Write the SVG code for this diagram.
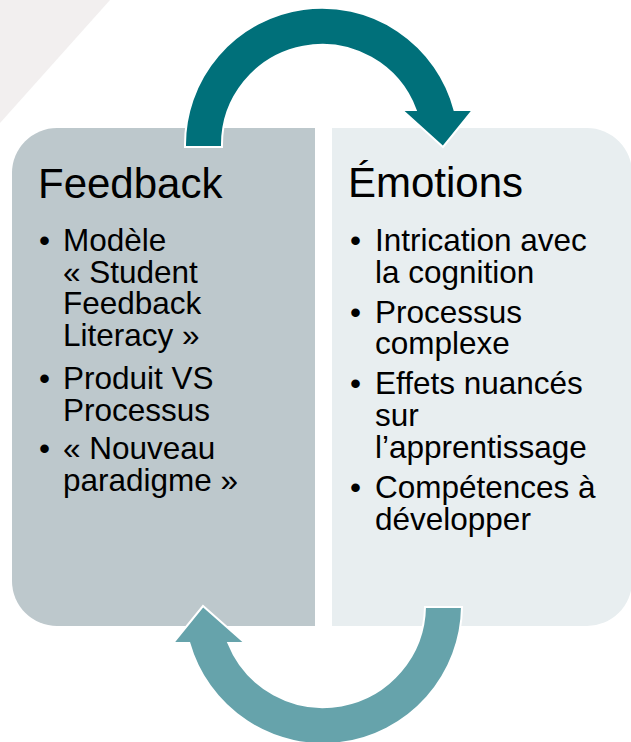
<svg xmlns="http://www.w3.org/2000/svg" width="631" height="742" viewBox="0 0 631 742">
<style>
.title{font-family:"Liberation Sans",Arial,sans-serif;font-size:42px;fill:#000}
.item{font-family:"Liberation Sans",Arial,sans-serif;font-size:31.5px;fill:#000}
.arrow{stroke:#fff;stroke-width:2;stroke-linejoin:miter}
</style>
<rect width="631" height="742" fill="#fff"/>
<polygon points="0,0 110,0 0,123" fill="#F2EFEF"/>
<g id="feedback">
<path d="M57,128 H315 V626 H57 A45,45 0 0 1 12,581 V173 A45,45 0 0 1 57,128 Z" fill="#BDC8CC"/>
<text class="title" x="38" y="198">Feedback</text>
<text class="item" x="39" y="251">•</text>
<text class="item"><tspan x="63" y="251">Modèle</tspan><tspan x="63" y="282.7">« Student</tspan><tspan x="63" y="314.4">Feedback</tspan><tspan x="63" y="346.1">Literacy »</tspan></text>
<text class="item" x="39" y="389">•</text>
<text class="item"><tspan x="63" y="389">Produit VS</tspan><tspan x="63" y="420.7">Processus</tspan></text>
<text class="item" x="39" y="459">•</text>
<text class="item"><tspan x="63" y="459">« Nouveau</tspan><tspan x="63" y="490.7">paradigme »</tspan></text>
</g>
<g id="emotions">
<path d="M332,128 H587 A45,45 0 0 1 632,173 V581 A45,45 0 0 1 587,626 H332 Z" fill="#E8EEF0"/>
<text class="title" x="348" y="197">Émotions</text>
<text class="item" x="350" y="251">•</text>
<text class="item"><tspan x="375" y="251">Intrication avec</tspan><tspan x="375" y="282.7">la cognition</tspan></text>
<text class="item" x="350" y="322.7">•</text>
<text class="item"><tspan x="375" y="322.7">Processus</tspan><tspan x="375" y="354.4">complexe</tspan></text>
<text class="item" x="350" y="394.4">•</text>
<text class="item"><tspan x="375" y="394.4">Effets nuancés</tspan><tspan x="375" y="426.1">sur</tspan><tspan x="375" y="457.8">l’apprentissage</tspan></text>
<text class="item" x="350" y="497.8">•</text>
<text class="item"><tspan x="375" y="497.8">Compétences à</tspan><tspan x="375" y="529.5">développer</tspan></text>
</g>
<g id="connectors">
<path class="arrow" fill="#00707A" d="M185,147 A137,137 0 0 1 454.5,110 L473,110 L443,147 L402,110 L415.7,110 A100,100 0 0 0 222,147 Z"/>
<path class="arrow" fill="#66A3AB" d="M462,607 A139,139 0 0 1 189.3,643 L173,643 L203,606 L245,643 L228.3,643 A102,102 0 0 0 425,607 Z"/>
</g>
</svg>
